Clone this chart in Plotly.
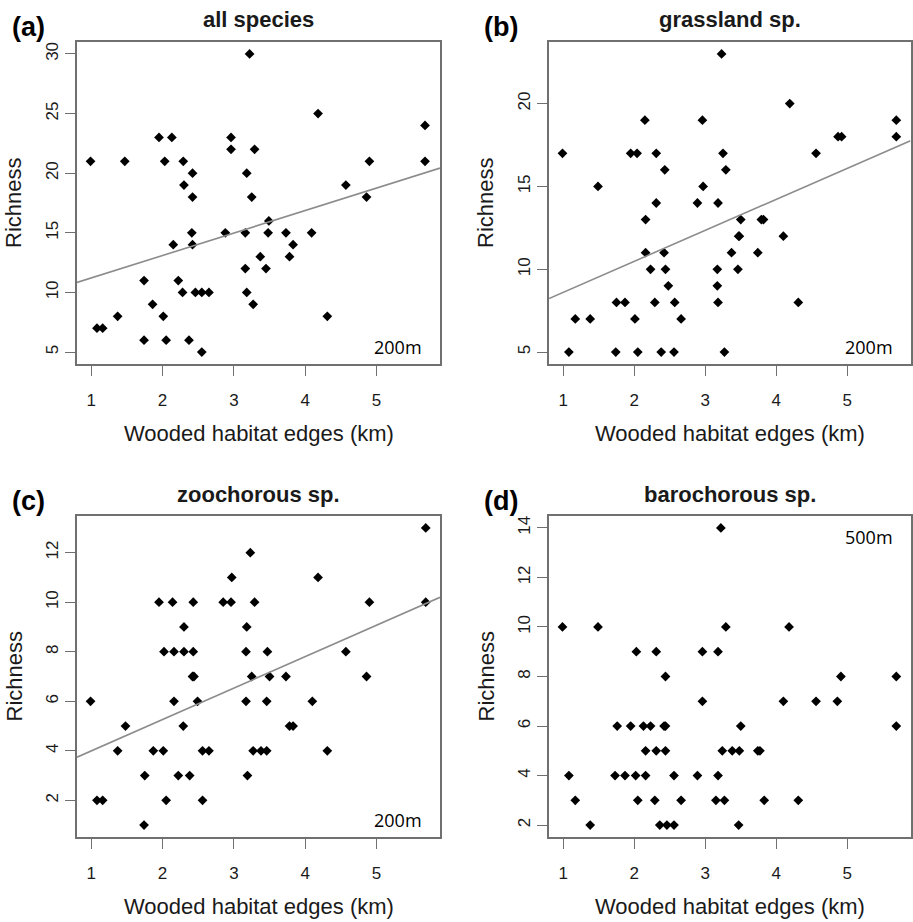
import plotly.graph_objects as go

# ---------------- data ----------------
panel_letters = ["(a)", "(b)", "(c)", "(d)"]
panel_titles = ["all species", "grassland sp.", "zoochorous sp.", "barochorous sp."]
buffer_labels = ["200m", "200m", "200m", "500m"]
x_title = "Wooded habitat edges (km)"
y_title = "Richness"

a_x = [0.99, 1.08, 1.16, 1.37, 1.47, 1.74, 1.74, 1.86, 1.95, 2.01, 2.03, 2.05, 2.13, 2.15, 2.22, 2.28, 2.29, 2.30,
       2.37, 2.41, 2.42, 2.42, 2.42, 2.46, 2.55, 2.55, 2.65, 2.88, 2.96, 2.96, 3.16, 3.16, 3.18, 3.18, 3.22, 3.25,
       3.27, 3.29, 3.37, 3.45, 3.48, 3.49, 3.73, 3.78, 3.83, 4.09, 4.18, 4.31, 4.57, 4.86, 4.90, 5.68, 5.68]
a_y = [21, 7, 7, 8, 21, 11, 6, 9, 23, 8, 21, 6, 23, 14, 11, 10, 21, 19,
       6, 15, 20, 18, 14, 10, 10, 5, 10, 15, 23, 22, 15, 12, 20, 10, 30, 18,
       9, 22, 13, 12, 15, 16, 15, 13, 14, 15, 25, 8, 19, 18, 21, 24, 21]

b_x = [0.99, 1.08, 1.17, 1.38, 1.49, 1.74, 1.75, 1.87, 1.95, 2.01, 2.04, 2.05, 2.15, 2.16, 2.16, 2.23, 2.29, 2.31,
       2.31, 2.38, 2.42, 2.43, 2.44, 2.48, 2.56, 2.57, 2.66, 2.89, 2.96, 2.97, 3.17, 3.17, 3.18, 3.18, 3.23, 3.25,
       3.27, 3.29, 3.37, 3.46, 3.47, 3.48, 3.50, 3.74, 3.79, 3.82, 4.10, 4.19, 4.31, 4.56, 4.87, 4.92, 5.69, 5.69]
b_y = [17, 5, 7, 7, 15, 5, 8, 8, 17, 7, 17, 5, 19, 13, 11, 10, 8, 17,
       14, 5, 11, 16, 10, 9, 5, 8, 7, 14, 19, 15, 10, 9, 8, 14, 23, 17,
       5, 16, 11, 10, 12, 12, 13, 11, 13, 13, 12, 20, 8, 17, 18, 18, 19, 18]

c_x = [0.99, 1.08, 1.16, 1.37, 1.48, 1.74, 1.75, 1.87, 1.95, 2.01, 2.02, 2.05, 2.14, 2.16, 2.16, 2.22, 2.29, 2.30,
       2.30, 2.38, 2.42, 2.43, 2.43, 2.44, 2.49, 2.56, 2.56, 2.65, 2.85, 2.96, 2.97, 3.17, 3.17, 3.18, 3.19, 3.23,
       3.25, 3.27, 3.29, 3.38, 3.46, 3.46, 3.47, 3.50, 3.73, 3.78, 3.83, 4.10, 4.18, 4.31, 4.57, 4.86, 4.90, 5.69, 5.69]
c_y = [6, 2, 2, 4, 5, 1, 3, 4, 10, 4, 8, 2, 10, 8, 6, 3, 5, 9,
       8, 3, 7, 10, 8, 7, 6, 4, 2, 4, 10, 10, 11, 8, 6, 9, 3, 12,
       7, 4, 10, 4, 6, 4, 8, 7, 7, 5, 5, 6, 11, 4, 8, 7, 10, 13, 10]

d_x = [0.99, 1.08, 1.17, 1.38, 1.49, 1.73, 1.76, 1.87, 1.95, 2.02, 2.03, 2.05, 2.13, 2.16, 2.16, 2.23, 2.29, 2.31,
       2.31, 2.36, 2.42, 2.44, 2.44, 2.44, 2.46, 2.56, 2.56, 2.66, 2.89, 2.96, 2.96, 3.15, 3.18, 3.18, 3.22, 3.24,
       3.27, 3.29, 3.38, 3.47, 3.48, 3.50, 3.74, 3.77, 3.83, 4.10, 4.18, 4.31, 4.56, 4.86, 4.91, 5.69, 5.69]
d_y = [10, 4, 3, 2, 10, 4, 6, 4, 6, 4, 9, 3, 6, 5, 4, 6, 3, 9,
       5, 2, 6, 6, 8, 5, 2, 4, 2, 3, 4, 9, 7, 3, 9, 4, 14, 5,
       3, 10, 5, 2, 5, 6, 5, 5, 3, 7, 10, 3, 7, 7, 8, 8, 6]

# fitted regression lines (intercept, slope); None = no line drawn
fits = [(9.33, 1.884), (6.73, 1.873), (2.725, 1.269), None]

y_ticks = [[5, 10, 15, 20, 25, 30], [5, 10, 15, 20], [2, 4, 6, 8, 10, 12], [2, 4, 6, 8, 10, 12, 14]]
x_ticks = [1, 2, 3, 4, 5]

# ---------------- layout geometry ----------------
W, H = 913, 922
x_range = [0.80, 5.89]
y_ranges = [[4.0, 31.0], [4.28, 23.72], [0.52, 13.48], [1.52, 14.48]]
# pixel boxes (left, right, top, bottom)
boxes = [(77, 440, 42, 364), (549, 910.5, 42, 364), (77, 440, 516, 837), (549, 910.5, 516, 837)]

data_x = [a_x, b_x, c_x, d_x]
data_y = [a_y, b_y, c_y, d_y]

FONT = "Liberation Sans, Arial, sans-serif"
frame_col = "#707070"
text_col = "#1a1a1a"

fig = go.Figure()
layout = dict(width=W, height=H, margin=dict(l=0, r=0, t=0, b=0),
              paper_bgcolor="white", plot_bgcolor="white", showlegend=False)
annotations = []

for i in range(4):
    n = "" if i == 0 else str(i + 1)
    L, R, T, B = boxes[i]
    xd = [L / W, R / W]
    yd = [1 - B / H, 1 - T / H]
    common = dict(showgrid=False, zeroline=False, showline=True, mirror=True,
                  linecolor=frame_col, linewidth=1.6, ticks="outside", ticklen=10,
                  tickwidth=1.4, tickcolor=frame_col,
                  tickfont=dict(family=FONT, size=17, color=text_col))
    layout["xaxis" + n] = dict(domain=xd, range=x_range, tickvals=x_ticks, anchor="y" + n,
                               ticklabelstandoff=10, **common)
    layout["yaxis" + n] = dict(domain=yd, range=y_ranges[i], tickvals=y_ticks[i], anchor="x" + n,
                               tickangle=-90, ticklabelstandoff=0, **common)

    fig.add_trace(go.Scatter(x=data_x[i], y=data_y[i], mode="markers",
                             xaxis="x" + n, yaxis="y" + n,
                             marker=dict(symbol="diamond", size=7.5, color="black",
                                         line=dict(width=0)),
                             hoverinfo="skip"))
    if fits[i] is not None:
        b0, b1 = fits[i]
        fx = list(x_range)
        fy = [b0 + b1 * v for v in fx]
        fig.add_trace(go.Scatter(x=fx, y=fy, mode="lines", xaxis="x" + n, yaxis="y" + n,
                                 line=dict(color="#8c8c8c", width=1.6), hoverinfo="skip",
                                 cliponaxis=True))

    cx = (L + R) / 2
    cy = (T + B) / 2
    # panel title
    annotations.append(dict(text=f"<b>{panel_titles[i]}</b>", x=cx / W, y=1 - (T - 22) / H,
                            xref="paper", yref="paper", showarrow=False, xanchor="center",
                            yanchor="middle", font=dict(family=FONT, size=22, color=text_col)))
    # panel letter
    annotations.append(dict(text=f"<b>{panel_letters[i]}</b>", x=(L - 67) / W, y=1 - (T - 15) / H,
                            xref="paper", yref="paper", showarrow=False, xanchor="left",
                            yanchor="middle", font=dict(family=FONT, size=27, color="black")))
    # x-axis title
    annotations.append(dict(text=x_title, x=cx / W, y=1 - (B + 69) / H,
                            xref="paper", yref="paper", showarrow=False, xanchor="center",
                            yanchor="middle", font=dict(family=FONT, size=22, color=text_col)))
    # y-axis title
    annotations.append(dict(text=y_title, x=(L - 63) / W, y=1 - cy / H, textangle=-90,
                            xref="paper", yref="paper", showarrow=False, xanchor="center",
                            yanchor="middle", font=dict(family=FONT, size=22, color=text_col)))
    # buffer label
    by = B - 17 if i < 3 else T + 21
    annotations.append(dict(text=buffer_labels[i], x=(R - 16) / W, y=1 - by / H,
                            xref="paper", yref="paper", showarrow=False, xanchor="right",
                            yanchor="middle", font=dict(family="Open Sans, sans-serif", size=18,
                                                        color="black")))

layout["annotations"] = annotations
fig.update_layout(**layout)
fig.write_html("out.html", config={"displayModeBar": False},
               post_script="document.body.style.margin='0';document.body.style.overflow='hidden';")
